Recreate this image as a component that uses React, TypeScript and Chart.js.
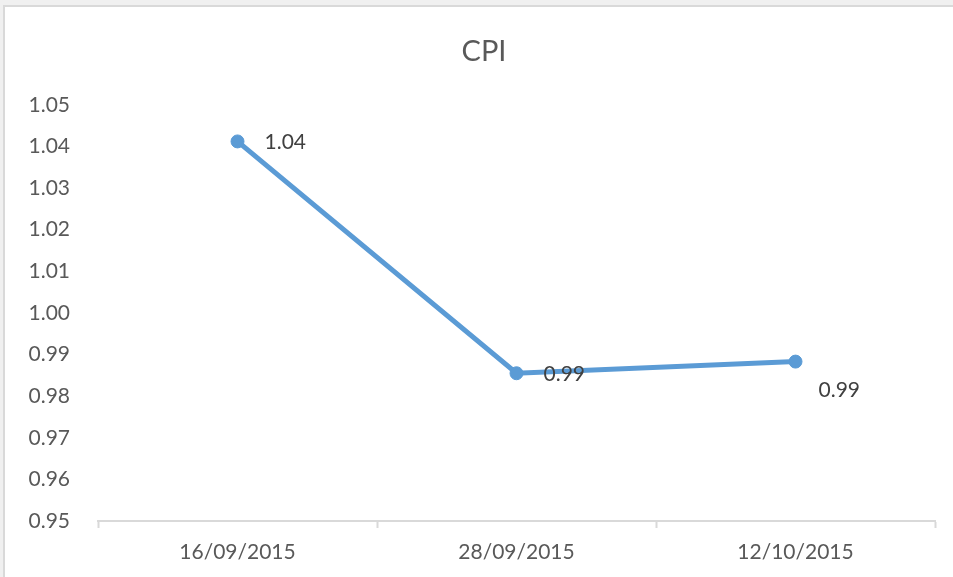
import React, { useEffect, useRef } from "react";
import { Chart, registerables } from "chart.js";

Chart.register(...registerables);

const chartTitle = "CPI";
const categories = ["16/09/2015", "28/09/2015", "12/10/2015"];
const cpiValues = [1.0412, 0.9855, 0.9883];
const yMin = 0.95;
const yMax = 1.05;
const yStep = 0.01;

const labelOffsets = [
  { dx: 27, dy: 1 },
  { dx: 27, dy: 1 },
  { dx: 23, dy: 29 },
];

const FONT = "Lato, 'Open Sans', sans-serif";

const dataLabelPlugin = {
  id: "dataLabels",
  afterLayout(chart: any) {
    const tb = chart.titleBlock;
    if (tb) {
      tb.left = 33;
      tb.right = chart.chartArea.right;
    }
  },
  afterDatasetsDraw(chart: any) {
    const ctx = chart.ctx;
    const meta = chart.getDatasetMeta(0);
    const data = chart.data.datasets[0].data as number[];
    ctx.save();
    ctx.font = `21px ${FONT}`;
    ctx.fillStyle = "#404040";
    ctx.textAlign = "left";
    ctx.textBaseline = "middle";
    meta.data.forEach((pt: any, i: number) => {
      const off = labelOffsets[i] || { dx: 10, dy: 0 };
      ctx.fillText(data[i].toFixed(2), pt.x + off.dx, pt.y + off.dy);
    });
    ctx.restore();
  },
};

export default function App() {
  const canvasRef = useRef<HTMLCanvasElement | null>(null);

  useEffect(() => {
    document.body.style.margin = "0";
    const canvas = canvasRef.current;
    if (!canvas) return;
    const chart = new Chart(canvas, {
      type: "line",
      data: {
        labels: categories,
        datasets: [
          {
            label: chartTitle,
            data: cpiValues,
            borderColor: "#5b9bd5",
            backgroundColor: "#5b9bd5",
            borderWidth: 5,
            pointRadius: 6.5,
            pointBorderWidth: 1,
            pointBackgroundColor: "#5b9bd5",
            pointBorderColor: "#5b9bd5",
            tension: 0,
            clip: false as any,
          },
        ],
      },
      options: {
        responsive: false,
        animation: false,
        maintainAspectRatio: false,
        layout: { padding: { top: 0, right: 18, bottom: 0, left: 0 } },
        plugins: {
          legend: { display: false },
          tooltip: { enabled: false },
          title: {
            display: true,
            text: chartTitle,
            color: "#595959",
            font: { family: FONT, size: 29, weight: "normal" as any },
            padding: { top: 34, bottom: 36 },
          },
        },
        scales: {
          x: {
            type: "category",
            offset: true,
            grid: {
              display: true,
              drawOnChartArea: false,
              drawTicks: true,
              tickLength: 7,
              tickWidth: 2,
              color: "#d9d9d9",
              offset: true,
            },
            border: { display: true, color: "#d9d9d9", width: 2 },
            ticks: {
              color: "#595959",
              font: { family: FONT, size: 21 },
              padding: 12,
              maxRotation: 0,
            },
            afterFit(scale: any) {
              scale.height = 56;
            },
          },
          y: {
            min: yMin,
            max: yMax,
            grid: { display: false, drawTicks: false },
            border: { display: false },
            ticks: {
              stepSize: yStep,
              color: "#595959",
              font: { family: FONT, size: 21 },
              padding: 28,
              callback: (v: any) => Number(v).toFixed(2),
            },
            afterFit(scale: any) {
              scale.width = 98;
            },
          },
        },
      },
      plugins: [dataLabelPlugin],
    });
    return () => chart.destroy();
  }, []);

  return (
    <div
      style={{
        position: "fixed",
        left: 0,
        top: 0,
        width: 953,
        height: 577,
        background: "#f0f0f0",
        overflow: "hidden",
      }}
    >
      <div
        style={{
          position: "absolute",
          left: 3,
          top: 5,
          right: -10,
          bottom: -10,
          background: "#ffffff",
          borderTop: "2px solid #d9d9d9",
          borderLeft: "2px solid #d9d9d9",
        }}
      />
      <canvas
        ref={canvasRef}
        width={953}
        height={577}
        style={{ position: "absolute", left: 0, top: 0, width: 953, height: 577 }}
      />
    </div>
  );
}
